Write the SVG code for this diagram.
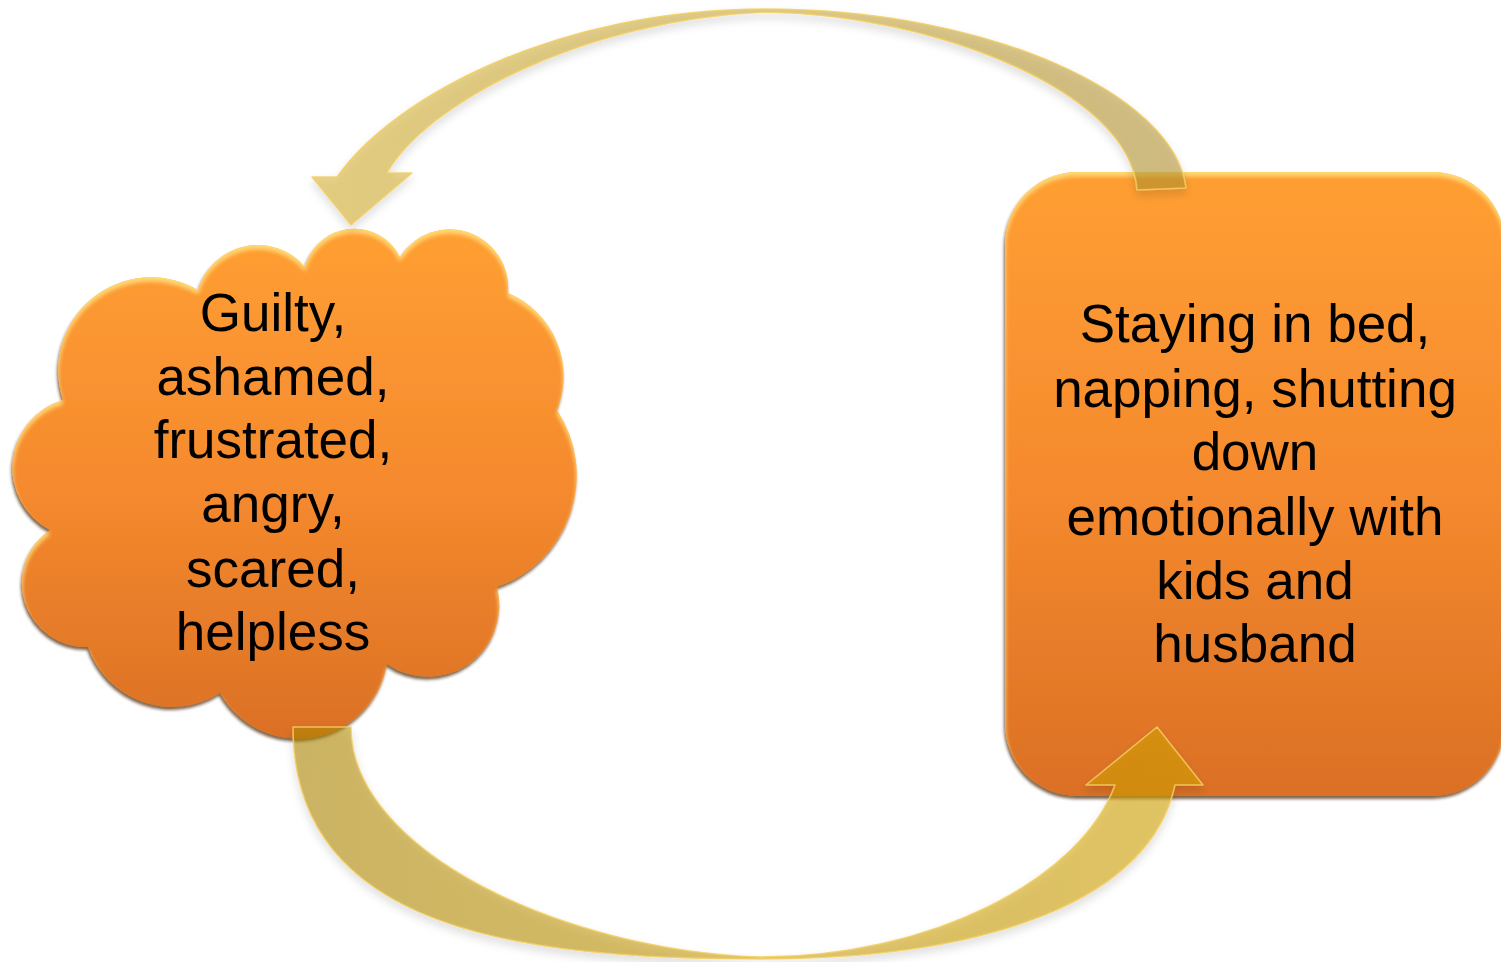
<svg xmlns="http://www.w3.org/2000/svg" width="1501" height="962" viewBox="0 0 1501 962">
  <style>
    .label { font-family: "Liberation Sans", Arial, sans-serif; font-size: 53px; fill: #000; text-anchor: middle; }
    .shape { fill: url(#orangeFill); filter: url(#bevel); }
    .arrow { stroke: #F3CF62; stroke-opacity: 0.85; stroke-width: 1.5; stroke-linejoin: round; filter: url(#arrowShadow); }
  </style>
  <defs>
    <linearGradient id="orangeFill" x1="0" y1="0" x2="0" y2="1">
      <stop offset="0" stop-color="#FF9F33"/>
      <stop offset="0.5" stop-color="#F58A2E"/>
      <stop offset="1" stop-color="#DB7025"/>
    </linearGradient>
    <linearGradient id="topArrowFill" gradientUnits="userSpaceOnUse" x1="1186" y1="0" x2="330" y2="0">
      <stop offset="0" stop-color="#B49331" stop-opacity="0.56"/>
      <stop offset="1" stop-color="#D5B031" stop-opacity="0.56"/>
    </linearGradient>
    <linearGradient id="bottomArrowFill" gradientUnits="userSpaceOnUse" x1="293" y1="0" x2="1200" y2="0">
      <stop offset="0" stop-color="#B08809" stop-opacity="0.56"/>
      <stop offset="1" stop-color="#D5A400" stop-opacity="0.56"/>
    </linearGradient>
    <!-- soft top highlight rim + dark lower drop edge -->
    <filter id="bevel" x="-5%" y="-5%" width="110%" height="112%">
      <feGaussianBlur in="SourceAlpha" stdDeviation="2" result="blur"/>
      <feOffset in="blur" dy="4" result="blurDown"/>
      <feComposite in="SourceAlpha" in2="blurDown" operator="out" result="topRim"/>
      <feFlood flood-color="#FFE27A" flood-opacity="0.85"/>
      <feComposite in2="topRim" operator="in" result="highlight"/>
      <feGaussianBlur in="SourceAlpha" stdDeviation="1.5" result="edgeBlur"/>
      <feOffset in="edgeBlur" dx="-1" dy="3" result="shadowShift"/>
      <feFlood flood-color="#4A2200" flood-opacity="0.7"/>
      <feComposite in2="shadowShift" operator="in" result="shadow"/>
      <feMerge>
        <feMergeNode in="shadow"/>
        <feMergeNode in="SourceGraphic"/>
        <feMergeNode in="highlight"/>
      </feMerge>
    </filter>
    <filter id="arrowShadow" x="-5%" y="-10%" width="110%" height="125%">
      <feDropShadow dx="0" dy="5" stdDeviation="4" flood-color="#000" flood-opacity="0.2"/>
    </filter>
  </defs>

  <g id="node-feelings">
    <path class="shape" d="M 63,400 A 93,93 0 0 1 198,290 A 62,62 0 0 1 305,267 A 51,51 0 0 1 400,257 A 58.5,58.5 0 0 1 508,293 A 90,90 0 0 1 557,410 A 118,118 0 0 1 497,587 A 71.5,71.5 0 0 1 387,664 A 90,90 0 0 1 220,693 A 89,89 0 0 1 88,647 A 64,64 0 0 1 50,530 A 70.5,70.5 0 0 1 63,400 Z"/>
    <text class="label" x="273" y="331">Guilty,</text>
    <text class="label" x="273" y="395">ashamed,</text>
    <text class="label" x="273" y="458">frustrated,</text>
    <text class="label" x="273" y="522">angry,</text>
    <text class="label" x="273" y="587">scared,</text>
    <text class="label" x="273" y="650">helpless</text>
  </g>

  <g id="node-behaviour">
    <rect class="shape" x="1005" y="172" width="500" height="624" rx="72" ry="72"/>
    <text class="label" x="1255" y="342">Staying in bed,</text>
    <text class="label" x="1255" y="407">napping, shutting</text>
    <text class="label" x="1255" y="470">down</text>
    <text class="label" x="1255" y="535">emotionally with</text>
    <text class="label" x="1255" y="599">kids and</text>
    <text class="label" x="1255" y="662">husband</text>
  </g>

  <g id="connectors">
    <!-- behaviour -> feelings, over the top -->
    <path class="arrow" fill="url(#topArrowFill)" d="M 337,177 C 395,95 560,9 765,9 C 990,9 1175,95 1186,188 L 1137,190 C 1130,90 930,14 765,12 C 580,20 425,105 387,173 L 412,173 L 351,225 L 312,177 Z"/>
    <!-- feelings -> behaviour, along the bottom -->
    <path class="arrow" fill="url(#bottomArrowFill)" d="M 293,727 C 293,930 520,959 760,959 C 990,959 1150,900 1175,785 L 1203,785 L 1157,727 L 1086,785 L 1115,785 C 1080,880 930,957 760,957 C 560,950 351,850 351,727 Z"/>
  </g>
</svg>
